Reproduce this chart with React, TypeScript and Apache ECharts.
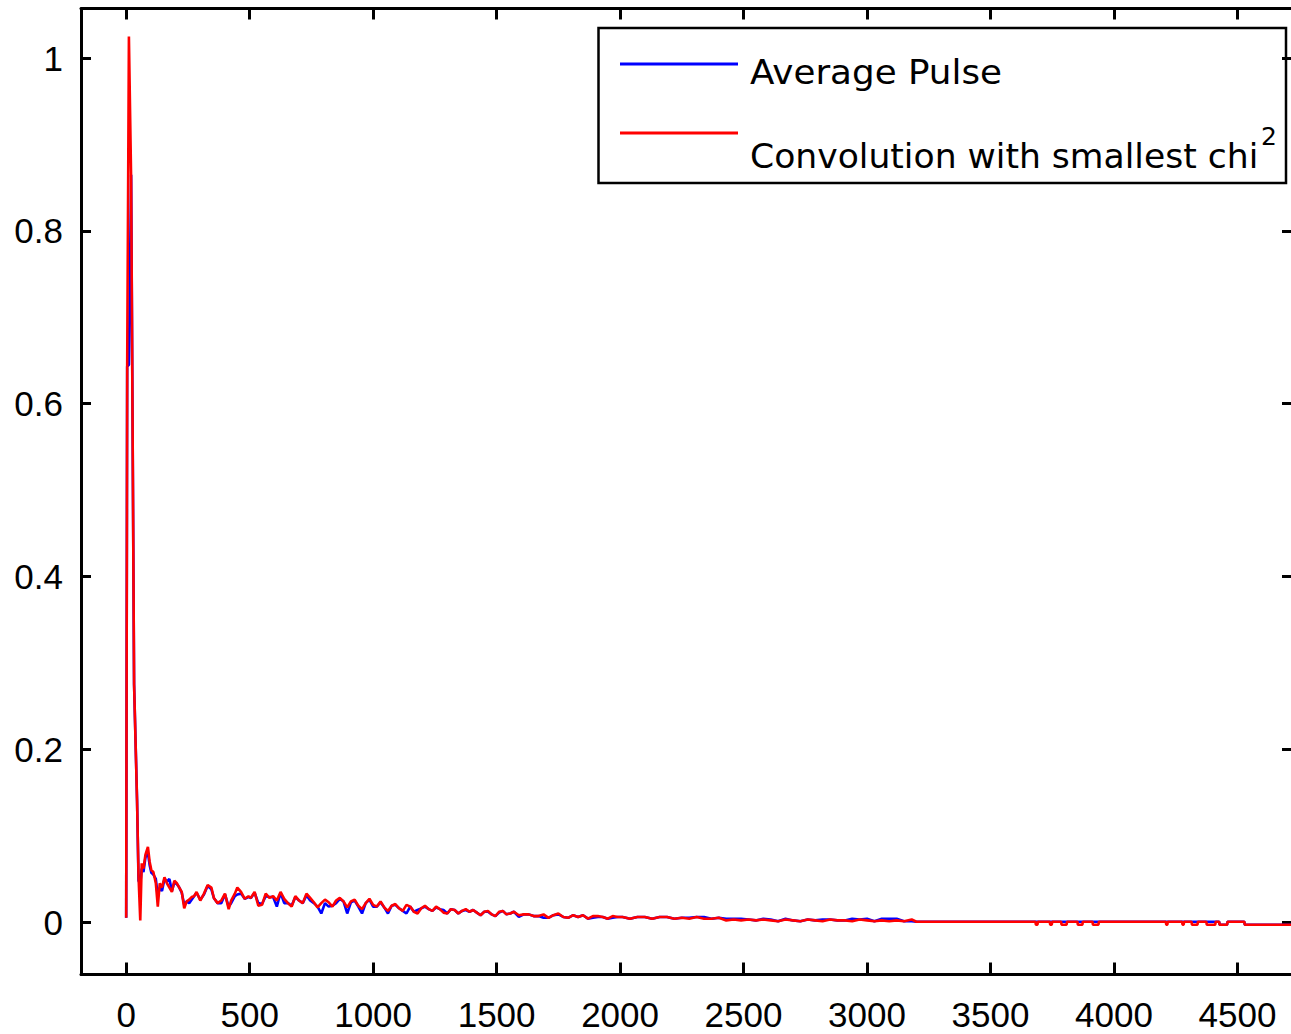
import React, { useEffect, useRef } from "react";
import * as echarts from "echarts";

// ---------- axis definitions ----------
const X_TICKS = [0, 500, 1000, 1500, 2000, 2500, 3000, 3500, 4000, 4500];
const Y_TICKS = [0, 0.2, 0.4, 0.6, 0.8, 1];
const X_MIN = -183;
const X_MAX = 4721;
const Y_MIN = -0.0606;
const Y_MAX = 1.0573;

const NAME_BLUE = "Average Pulse";
const NAME_RED = "Convolution with smallest chi";
const NAME_RED_SUP = "2";

// ---------- data: initial pulse ----------
const PEAK_X = [0, 4, 11, 20, 32, 44, 50, 57, 63, 70, 78, 88, 95, 102, 110, 120, 128, 136];
const PEAK_RED = [0.005, 0.64, 1.025, 0.86, 0.275, 0.14, 0.053, 0.002, 0.068, 0.062, 0.078, 0.087, 0.07, 0.06, 0.058, 0.045, 0.018, 0.045];
const PEAK_BLUE = [0.005, 0.643, 0.645, 0.865, 0.275, 0.142, 0.048, 0.044, 0.062, 0.058, 0.075, 0.08, 0.066, 0.057, 0.055, 0.05, 0.03, 0.04];

// ---------- data: ripple tail ----------
const RIPPLE_X = [
  145, 155, 165, 175, 185, 195, 205, 215, 225, 235,
  245, 255, 265, 275, 285, 300, 315, 330, 345, 355,
  370, 385, 400, 415, 425, 440, 450, 465, 480, 495,
  505, 520, 535, 550, 565, 580, 595, 610, 625, 640,
  655, 670, 685, 700, 715, 730, 745, 760, 775, 790,
  805, 820, 835, 850, 865, 880, 895, 910, 925, 940,
  955, 970, 985, 1000, 1015, 1030, 1045, 1060, 1075, 1090,
  1105, 1120, 1135, 1150, 1165, 1180, 1195, 1210, 1225, 1240,
  1255, 1270, 1285, 1300, 1315, 1330, 1345, 1360, 1375, 1390,
];
const RIPPLE_RED = [
  0.040, 0.052, 0.045, 0.040, 0.035, 0.048, 0.045, 0.040, 0.035, 0.016,
  0.024, 0.026, 0.029, 0.030, 0.035, 0.025, 0.033, 0.043, 0.040, 0.028,
  0.022, 0.025, 0.033, 0.015, 0.025, 0.033, 0.040, 0.035, 0.027, 0.030,
  0.028, 0.035, 0.019, 0.020, 0.033, 0.028, 0.030, 0.025, 0.035, 0.027,
  0.022, 0.018, 0.030, 0.025, 0.022, 0.033, 0.028, 0.023, 0.017, 0.022,
  0.026, 0.023, 0.018, 0.025, 0.028, 0.024, 0.017, 0.024, 0.026, 0.019,
  0.015, 0.022, 0.027, 0.020, 0.018, 0.024, 0.017, 0.013, 0.019, 0.021,
  0.016, 0.013, 0.020, 0.018, 0.012, 0.010, 0.016, 0.019, 0.015, 0.013,
  0.018, 0.015, 0.011, 0.010, 0.015, 0.014, 0.010, 0.013, 0.015, 0.012,
];
const RIPPLE_BLUE = [
  0.036, 0.050, 0.047, 0.050, 0.036, 0.046, 0.044, 0.040, 0.034, 0.020,
  0.024, 0.022, 0.026, 0.030, 0.034, 0.026, 0.032, 0.042, 0.038, 0.028,
  0.022, 0.022, 0.032, 0.018, 0.022, 0.030, 0.032, 0.033, 0.027, 0.029,
  0.028, 0.034, 0.022, 0.021, 0.030, 0.029, 0.029, 0.018, 0.034, 0.022,
  0.022, 0.019, 0.029, 0.025, 0.022, 0.031, 0.025, 0.022, 0.018, 0.010,
  0.022, 0.018, 0.019, 0.022, 0.027, 0.024, 0.010, 0.023, 0.025, 0.018,
  0.010, 0.022, 0.026, 0.018, 0.018, 0.023, 0.017, 0.010, 0.019, 0.020,
  0.016, 0.013, 0.010, 0.018, 0.012, 0.014, 0.016, 0.018, 0.015, 0.013,
  0.017, 0.015, 0.014, 0.010, 0.015, 0.014, 0.010, 0.013, 0.014, 0.012,
];

// ---------- data: slow decay ----------
const DECAY_X = [
  1405, 1420, 1435, 1450, 1465, 1480, 1495, 1510, 1525, 1540,
  1555, 1570, 1590, 1610, 1630, 1650, 1670, 1690, 1710, 1730,
  1750, 1770, 1790, 1810, 1830, 1850, 1870, 1890, 1910, 1930,
  1950, 1970, 1990, 2010,
];
const DECAY_RED = [
  0.014, 0.011, 0.008, 0.012, 0.013, 0.009, 0.007, 0.012, 0.013, 0.009,
  0.010, 0.012, 0.008, 0.009, 0.009, 0.007, 0.007, 0.009, 0.005, 0.008,
  0.010, 0.006, 0.005, 0.008, 0.006, 0.008, 0.004, 0.007, 0.007, 0.006,
  0.004, 0.007, 0.006, 0.006,
];
const DECAY_BLUE = [
  0.014, 0.011, 0.008, 0.012, 0.012, 0.009, 0.007, 0.011, 0.013, 0.009,
  0.010, 0.012, 0.006, 0.009, 0.009, 0.007, 0.007, 0.005, 0.005, 0.008,
  0.009, 0.006, 0.005, 0.008, 0.006, 0.008, 0.004, 0.005, 0.006, 0.006,
  0.004, 0.005, 0.006, 0.006,
];

// ---------- data: near-zero stretch ----------
const FLAT_X = [
  2040, 2070, 2100, 2130, 2160, 2190, 2220, 2250, 2280, 2310,
  2340, 2370, 2400, 2430, 2460, 2490, 2520, 2550, 2580, 2610,
  2640, 2670, 2700, 2730, 2760, 2790, 2820, 2850, 2880, 2910,
  2940, 2970, 3000, 3030, 3060, 3090, 3120, 3150, 3181, 3200,
];
const FLAT_RED = [
  0.004, 0.006, 0.006, 0.004, 0.006, 0.006, 0.004, 0.005, 0.004, 0.006,
  0.004, 0.004, 0.005, 0.002, 0.003, 0.002, 0.003, 0.002, 0.003, 0.002,
  0.001, 0.003, 0.002, 0.001, 0.003, 0.002, 0.001, 0.003, 0.002, 0.002,
  0.001, 0.003, 0.002, 0.001, 0.002, 0.001, 0.002, 0.001, 0.003, 0.0004,
];
const FLAT_BLUE = [
  0.004, 0.006, 0.006, 0.004, 0.006, 0.006, 0.004, 0.005, 0.005, 0.006,
  0.006, 0.004, 0.005, 0.004, 0.004, 0.004, 0.003, 0.002, 0.004, 0.003,
  0.001, 0.004, 0.002, 0.001, 0.003, 0.002, 0.003, 0.003, 0.002, 0.002,
  0.004, 0.003, 0.004, 0.001, 0.004, 0.004, 0.004, 0.001, 0.001, 0.0004,
];

// ---------- data: end with small dips ----------
const END_X = [
  3682, 3684, 3690, 3692,
  3740, 3742, 3748, 3750,
  3786, 3788, 3808, 3810,
  3852, 3854, 3872, 3874,
  3913, 3915, 3937, 3939,
  4210, 4212, 4216, 4218,
  4276, 4278, 4282, 4284,
  4314, 4316, 4338, 4340,
  4374, 4376, 4410, 4412,
  4426, 4428, 4458, 4460,
  4528, 4530, 4721,
];
const END_RED = [
  0.0004, -0.003, -0.003, 0.0004,
  0.0004, -0.003, -0.003, 0.0004,
  0.0004, -0.003, -0.003, 0.0004,
  0.0004, -0.003, -0.003, 0.0004,
  0.0004, -0.003, -0.003, 0.0004,
  0.0004, -0.003, -0.003, 0.0004,
  0.0004, -0.003, -0.003, 0.0004,
  0.0004, -0.003, -0.003, 0.0004,
  0.0004, -0.003, -0.003, 0.0004,
  0.0004, -0.003, -0.003, 0.0004,
  0.0004, -0.003, -0.003,
];
const END_BLUE = [
  0.0004, 0.0004, 0.0004, 0.0004,
  0.0004, 0.0004, 0.0004, 0.0004,
  0.0004, 0.0004, 0.0004, 0.0004,
  0.0004, 0.0004, 0.0004, 0.0004,
  0.0004, 0.0004, 0.0004, 0.0004,
  0.0004, 0.0004, 0.0004, 0.0004,
  0.0004, 0.0004, 0.0004, 0.0004,
  0.0004, 0.0004, 0.0004, 0.0004,
  0.0004, 0.0004, 0.0004, 0.0004,
  0.0004, -0.003, -0.003, 0.0004,
  0.0004, -0.003, -0.003,
];

const ALL_X = [...PEAK_X, ...RIPPLE_X, ...DECAY_X, ...FLAT_X, ...END_X];
const ALL_RED = [...PEAK_RED, ...RIPPLE_RED, ...DECAY_RED, ...FLAT_RED, ...END_RED];
const ALL_BLUE = [...PEAK_BLUE, ...RIPPLE_BLUE, ...DECAY_BLUE, ...FLAT_BLUE, ...END_BLUE];

function pairs(xs: number[], ys: number[]) {
  const n = Math.min(xs.length, ys.length);
  const out: number[][] = [];
  for (let i = 0; i < n; i++) out.push([xs[i], ys[i]]);
  return out;
}

const TICK_FONT = "Liberation Sans";
const LEGEND_FONT = "DejaVu Sans";

export default function App() {
  const ref = useRef<HTMLDivElement>(null);

  useEffect(() => {
    if (!ref.current) return;
    const chart = echarts.init(ref.current, null, { renderer: "svg" });

    const axisLine = { show: true, onZero: false, lineStyle: { color: "#000", width: 3 } };

    chart.setOption({
      animation: false,
      backgroundColor: "#fff",
      grid: {
        left: 81,
        right: -1,
        top: 8.5,
        bottom: 59.5,
        containLabel: false,
        outerBoundsMode: "none",
      },
      xAxis: [
        {
          type: "value",
          position: "bottom",
          min: X_MIN,
          max: X_MAX,
          axisLine,
          splitLine: { show: false },
          axisTick: {
            show: true,
            inside: true,
            length: 12,
            customValues: X_TICKS,
            lineStyle: { color: "#000", width: 3 },
          },
          axisLabel: {
            show: true,
            customValues: X_TICKS,
            margin: 22,
            color: "#000",
            fontFamily: TICK_FONT,
            fontSize: 35,
            formatter: (v: number) => String(v),
          },
        },
        {
          type: "value",
          position: "top",
          min: X_MIN,
          max: X_MAX,
          axisLine,
          splitLine: { show: false },
          axisTick: {
            show: true,
            inside: true,
            length: 11,
            customValues: X_TICKS,
            lineStyle: { color: "#000", width: 3 },
          },
          axisLabel: { show: false },
        },
      ],
      yAxis: [
        {
          type: "value",
          position: "left",
          min: Y_MIN,
          max: Y_MAX,
          axisLine,
          splitLine: { show: false },
          axisTick: {
            show: true,
            inside: true,
            length: 10,
            customValues: Y_TICKS,
            lineStyle: { color: "#000", width: 3 },
          },
          axisLabel: {
            show: true,
            customValues: Y_TICKS,
            margin: 18,
            color: "#000",
            fontFamily: TICK_FONT,
            fontSize: 35,
            padding: [12, 0, 0, 0],
            formatter: (v: number) => String(v),
          },
        },
        {
          type: "value",
          position: "right",
          min: Y_MIN,
          max: Y_MAX,
          axisLine,
          splitLine: { show: false },
          axisTick: {
            show: true,
            inside: true,
            length: 10,
            customValues: Y_TICKS,
            lineStyle: { color: "#000", width: 3 },
          },
          axisLabel: { show: false },
        },
      ],
      series: [
        {
          name: NAME_BLUE,
          type: "line",
          xAxisIndex: 0,
          yAxisIndex: 0,
          showSymbol: false,
          symbol: "none",
          lineStyle: { color: "#0000ff", width: 2.6 },
          itemStyle: { color: "#0000ff" },
          data: pairs(ALL_X, ALL_BLUE),
          z: 2,
        },
        {
          name: NAME_RED + NAME_RED_SUP,
          type: "line",
          xAxisIndex: 0,
          yAxisIndex: 0,
          showSymbol: false,
          symbol: "none",
          lineStyle: { color: "#ff0000", width: 2.6 },
          itemStyle: { color: "#ff0000" },
          data: pairs(ALL_X, ALL_RED),
          z: 3,
        },
      ],
      graphic: [
        {
          type: "group",
          z: 100,
          children: [
            {
              type: "rect",
              shape: { x: 598.5, y: 28, width: 687.5, height: 155 },
              style: { fill: "#fff", stroke: "#000", lineWidth: 2.5 },
            },
            {
              type: "line",
              shape: { x1: 620, y1: 64, x2: 738, y2: 64 },
              style: { stroke: "#0000ff", lineWidth: 3 },
            },
            {
              type: "line",
              shape: { x1: 620, y1: 133, x2: 738, y2: 133 },
              style: { stroke: "#ff0000", lineWidth: 3 },
            },
            {
              type: "text",
              x: 750,
              y: 72,
              scaleX: 1.05,
              style: {
                text: NAME_BLUE,
                fill: "#000",
                fontFamily: LEGEND_FONT,
                fontSize: 34,
                align: "left",
                verticalAlign: "middle",
              },
            },
            {
              type: "text",
              x: 750,
              y: 156,
              scaleX: 1.017,
              style: {
                text: NAME_RED,
                fill: "#000",
                fontFamily: LEGEND_FONT,
                fontSize: 34,
                align: "left",
                verticalAlign: "middle",
              },
            },
            {
              type: "text",
              x: 1261,
              y: 136,
              style: {
                text: NAME_RED_SUP,
                fill: "#000",
                fontFamily: LEGEND_FONT,
                fontSize: 25,
                align: "left",
                verticalAlign: "middle",
              },
            },
          ],
        },
      ],
    });

    return () => {
      chart.dispose();
    };
  }, []);

  return (
    <div
      ref={ref}
      style={{
        position: "fixed",
        left: 0,
        top: 0,
        width: 1291,
        height: 1034,
        background: "#fff",
      }}
    />
  );
}
